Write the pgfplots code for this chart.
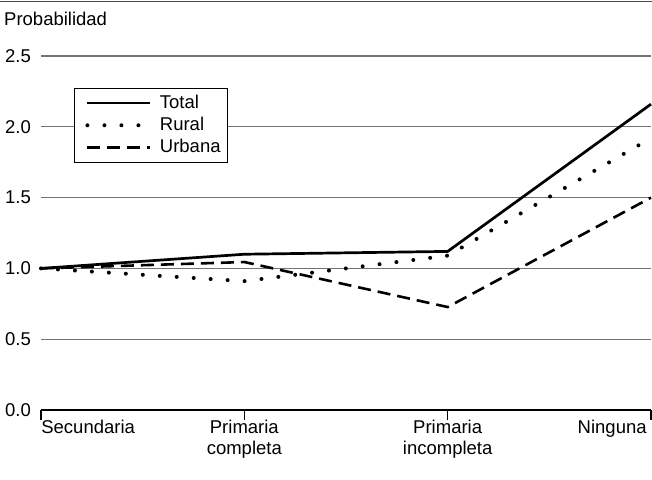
\documentclass[border=0pt]{standalone}
\usepackage{fontspec}
\setmainfont{Liberation Sans}
\usepackage{pgfplots}
\pgfplotsset{compat=1.18}
\begin{document}
\fontsize{18.5}{22}\selectfont
\begin{tikzpicture}[x=1pt,y=1pt]
\begin{axis}[
  at={(0pt,0pt)}, anchor=south west,
  scale only axis, width=610pt, height=354pt,
  xmin=0, xmax=3, ymin=0, ymax=2.5,
  clip=false,
  axis x line*=bottom, axis y line*=left,
  y axis line style={draw=none},
  x axis line style={line width=1.2pt, black, -},
  xtick={0,1,2,3}, xticklabels={},
  xtick style={draw=black, line width=1.1pt},
  major tick length=10pt,
  tick align=outside,
  ytick={0,0.5,1,1.5,2,2.5},
  yticklabels={0.0,0.5,1.0,1.5,2.0,2.5},
  ytick style={draw=none},
  yticklabel style={font=\fontsize{18.5}{22}\selectfont, anchor=east, inner sep=0pt},
  /pgf/number format/assume math mode=true,
  ymajorgrids,
  grid style={black!55, line width=1.2pt},
  legend style={at={(0.054,0.9096)}, anchor=north west, draw=black, line width=1pt, fill=white,
    font=\fontsize{18.5}{22}\selectfont, inner xsep=5pt, inner ysep=5pt, row sep=3pt,
    nodes={inner sep=1.5pt}},
  legend cell align=left,
  legend image code/.code={\path (-6pt,0pt) (69pt,0pt); \draw[#1] (0pt,0pt) -- (63pt,0pt);},
]
\addplot[black, line width=2.7pt] coordinates {(0,1.0) (1,1.10) (2,1.12) (3,2.16)};
\addlegendentry{Total}
\addplot[black, line width=4pt, line cap=round, dash pattern=on 0pt off 17pt] coordinates {(0,1.0) (1,0.91) (2,1.09) (3,1.92)};
\addlegendentry{Rural}
\addplot[black, line width=2.6pt, dash pattern=on 13pt off 7pt] coordinates {(0,1.0) (1,1.045) (2,0.727) (3,1.50)};
\addlegendentry{Urbana}
\node[anchor=base west] at (axis cs:0,0) [xshift=-6pt, yshift=-23pt] {Secundaria};
\node[anchor=base] at (axis cs:1,0) [yshift=-23pt] {Primaria};
\node[anchor=base] at (axis cs:1,0) [yshift=-44pt] {completa};
\node[anchor=base] at (axis cs:2,0) [yshift=-23pt] {Primaria};
\node[anchor=base] at (axis cs:2,0) [yshift=-44pt] {incompleta};
\node[anchor=base east] at (axis cs:3,0) [xshift=2pt, yshift=-23pt] {Ninguna};
\end{axis}
\draw[black!70, line width=1.5pt] (-41pt,408.5pt) -- (611pt,408.5pt);
\node[anchor=base west, inner sep=0pt] at (-37pt,384pt) {Probabilidad};
\pgfresetboundingbox
\useasboundingbox (-41pt,-69pt) rectangle (611pt,410pt);
\end{tikzpicture}
\end{document}
